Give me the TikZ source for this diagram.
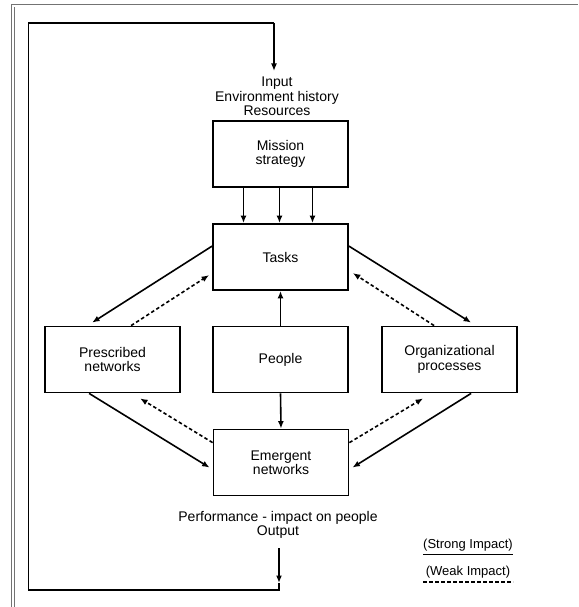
\documentclass[tikz,border=0pt]{standalone}
\usepackage{fontspec}
\setmainfont{Liberation Sans}
\usetikzlibrary{arrows.meta}
\begin{document}
\begin{tikzpicture}[x=1pt,y=-1pt,
  every node/.style={font=\fontsize{14}{14.5}\selectfont, align=center},
  box/.style={draw, line width=1.8pt, minimum width=135pt, minimum height=66pt, inner sep=2pt},
  strong/.style={line width=1.6pt, -{Latex[length=7.5pt,width=6pt]}},
  weak/.style={line width=1.6pt, dash pattern=on 3.5pt off 2.5pt, -{Latex[length=7.5pt,width=6pt]}},
  plain/.style={line width=1.6pt},
  frame/.style={draw=black!55, line width=1pt}]
\useasboundingbox (0,0) rectangle (578,607);

% page frame
\draw[frame] (11.5,607) -- (11.5,4.5) -- (578,4.5);
\draw[frame] (14.5,607) -- (14.5,7);

% boxes
\node[box] (mission) at (280.5,154) {Mission\\strategy};
\node[box] (tasks)   at (280.5,257) {Tasks};
\node[box] (people)  at (280.5,359.5) {People};
\node[box] (presc)   at (112.5,359.5) {Prescribed\\networks};
\node[box] (org)     at (449.5,359.5) {Organizational\\processes};
\node[box] (emerg)   at (281,462.5) {Emergent\\networks};

% labels above and below
\node (inp)  at (277,96.5) {Input\\Environment history\\Resources};
\node (perf) at (278,525) {Performance - impact on people\\Output};

% mission to tasks
\draw[strong] ([xshift=-37pt]mission.south) -- ([xshift=-37pt]tasks.north);
\draw[strong] ([xshift=-1pt]mission.south) -- ([xshift=-1pt]tasks.north);
\draw[strong] ([xshift=32pt]mission.south) -- ([xshift=32pt]tasks.north);

% people
\draw[strong] (people.north) -- (tasks.south);
\draw[strong] (people.south) -- (emerg.north);

% tasks and the side boxes
\draw[strong] ([yshift=-23pt]tasks.north west) -- ([xshift=48pt,yshift=3pt]presc.north west);
\draw[weak] ([xshift=87pt]presc.north west) -- ([xshift=-3pt,yshift=-52pt]tasks.north west);
\draw[strong] ([yshift=-23pt]tasks.north east) -- ([xshift=90pt,yshift=3pt]org.north west);
\draw[weak] ([xshift=53pt]org.north west) -- ([xshift=4pt,yshift=-50pt]tasks.north east);

% side boxes and emergent networks
\draw[strong] ([xshift=45pt]presc.south west) -- ([xshift=-3pt,yshift=-39pt]emerg.north west);
\draw[weak] ([yshift=-14pt]emerg.north west) -- ([xshift=96pt,yshift=-5pt]presc.south west);
\draw[strong] ([xshift=90pt]org.south west) -- ([xshift=3pt,yshift=-39pt]emerg.north east);
\draw[weak] ([yshift=-14pt]emerg.north east) -- ([xshift=42pt,yshift=-5pt]org.south west);

% feedback loop from output back to input
\coordinate (otop) at (279,548);
\coordinate (oarr) at (279,583);
\coordinate (c1) at (279,590);
\coordinate (c2) at (28.5,590);
\coordinate (c3) at (28.5,23);
\coordinate (c4) at (274,23);
\coordinate (itip) at (274,71);
\draw[strong] (otop) -- (oarr);
\draw[plain] (oarr) -- (c1) -- (c2) -- (c3) -- (c4);
\draw[strong] (c4) -- (itip);

% legend
\node[font=\fontsize{13}{14}\selectfont] (lstrong) at (468,545) {(Strong Impact)};
\node[font=\fontsize{13}{14}\selectfont] (lweak) at (468,572) {(Weak Impact)};
\coordinate (s1) at (423,554.5);
\coordinate (s2) at (513,554.5);
\coordinate (w1) at (423,582);
\coordinate (w2) at (513,582);
\draw[line width=1.8pt] (s1) -- (s2);
\draw[line width=1.8pt, dash pattern=on 3.5pt off 2.5pt] (w1) -- (w2);
\end{tikzpicture}
\end{document}
